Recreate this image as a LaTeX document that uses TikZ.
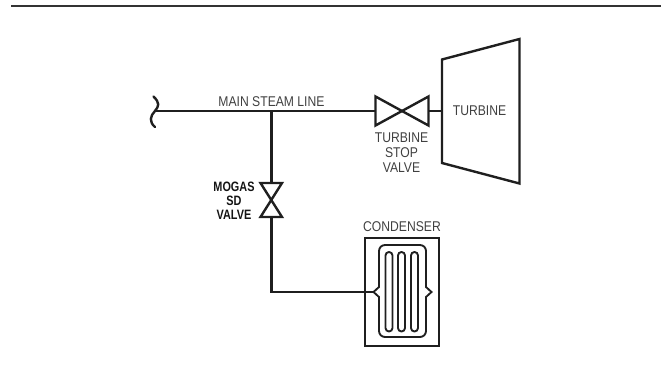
\documentclass[tikz,border=0pt]{standalone}
\usepackage{fontspec}
\setmainfont{Liberation Sans}
\newfontfamily\narrowreg[FakeStretch=0.86]{Liberation Sans}
\newfontfamily\narrowbold[FakeStretch=0.8]{Liberation Sans Bold}
\begin{document}
\begin{tikzpicture}[x=0.75pt,y=-0.75pt,
 pipe/.style={line width=1.8pt,draw=black!88,line join=miter},
 coil/.style={line width=1.4pt,draw=black!88,line join=miter},
 lbl/.style={inner sep=0pt,font=\fontsize{10.6}{11.2}\selectfont\narrowreg,text=black!75,align=center},
 blbl/.style={inner sep=0pt,font=\fontsize{10.2}{10.6}\selectfont\narrowbold,text=black!92,align=center}]
\useasboundingbox (0,0) rectangle (661,385);
\coordinate (ruleL) at (11,5.7); \coordinate (ruleR) at (661,5.7);
\draw[line width=1.5pt,black!80] (ruleL) -- (ruleR);
\coordinate (breakpt) at (155,111);
\coordinate (tee) at (271.5,111);
\coordinate (svL) at (376,111);
\coordinate (svR) at (428,111);
\coordinate (turbin) at (442,111);
\coordinate (mvT) at (271.5,183);
\coordinate (mvB) at (271.5,217);
\coordinate (cin) at (373.5,292);
\coordinate (corner) at (271.5,292);
% break symbol
\draw[pipe,line cap=round] (153.5,96.5) .. controls (160,103) and (159,106) .. (155,111) .. controls (150,116) and (149,122) .. (155,127);
% pipes
\draw[pipe] (breakpt) -- (svL);
\draw[pipe] (svR) -- (turbin);
\draw[pipe] (tee) -- (mvT);
\draw[pipe] (mvB) -- (corner) -- (cin);
% stop valve
\draw[pipe] (375.5,96.5) -- (428.5,125.5) -- (428.5,96.5) -- (375.5,125.5) -- cycle;
% mogas valve
\draw[pipe] (260.5,183) -- (282,183) -- (260.5,217) -- (282,217) -- cycle;
% turbine
\draw[pipe] (442,59.5) -- (519.5,39) -- (519.5,183.5) -- (442,163) -- cycle;
% condenser
\draw[pipe] (365,238) rectangle (439,346);
\draw[coil] (385,245) -- (420,245) .. controls (423.3,245) and (426,247.7) .. (426,251) -- (426,287) -- (431.5,292) -- (426,297) -- (426,331) .. controls (426,334.3) and (423.3,337) .. (420,337) -- (385,337) .. controls (381.7,337) and (379,334.3) .. (379,331) -- (379,297) -- (373.5,292) -- (379,287) -- (379,251) .. controls (379,247.7) and (381.7,245) .. (385,245) -- cycle;
\draw[coil,rounded corners=2.6pt] (385.5,252) rectangle (392.5,331.5);
\draw[coil,rounded corners=2.6pt] (398,252) rectangle (405,331.5);
\draw[coil,rounded corners=2.6pt] (411,252) rectangle (418,331.5);
% labels
\node[lbl] (mainlbl) at (271.5,102) {MAIN STEAM LINE};
\node[lbl] (turblbl) at (479.5,111) {TURBINE};
\node[lbl] (stoplbl) at (401.5,153) {TURBINE\\STOP\\VALVE};
\node[lbl] (condlbl) at (402,227) {CONDENSER};
\node[blbl] (moglbl) at (234,201) {MOGAS\\SD\\VALVE};
\end{tikzpicture}
\end{document}
